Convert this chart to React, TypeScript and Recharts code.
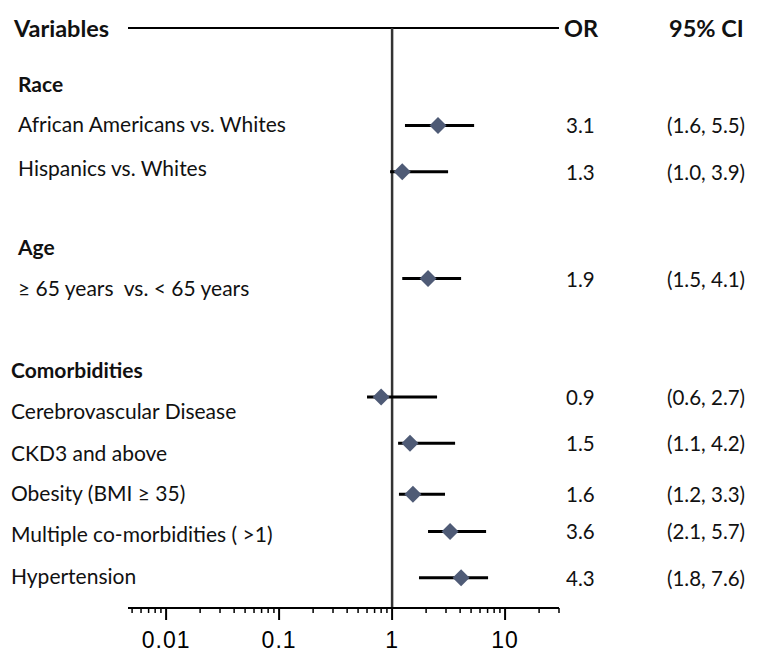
import React from 'react';
import {
  ComposedChart,
  Scatter,
  XAxis,
  YAxis,
  ErrorBar,
  ReferenceLine,
} from 'recharts';

// rows of the forest plot, top to bottom
const rowLabels = [
  'African Americans vs. Whites',
  'Hispanics vs. Whites',
  '≥ 65 years  vs. < 65 years',
  'Cerebrovascular Disease',
  'CKD3 and above',
  'Obesity (BMI ≥ 35)',
  'Multiple co-morbidities ( >1)',
  'Hypertension',
];
const rowGroup = [0, 0, 1, 2, 2, 2, 2, 2];
const groupLabels = ['Race', 'Age', 'Comorbidities'];

// vertical order (row units, 0 = header line)
const groupRows = [2.4, 9.4, 14.7];
const labelRows = [4.1, 6.0, 11.2, 16.5, 18.3, 20.0, 21.8, 23.6];
const markRows = [4.2, 6.2, 10.8, 15.9, 17.9, 20.1, 21.7, 23.7];

const orPlotted = [2.55, 1.23, 2.08, 0.8, 1.44, 1.53, 3.26, 4.08];
const ciLow = [1.3, 0.96, 1.23, 0.6, 1.13, 1.15, 2.08, 1.73];
const ciHigh = [5.32, 3.13, 4.08, 2.5, 3.61, 2.94, 6.79, 7.07];

// printed columns
const orText = ['3.1', '1.3', '1.9', '0.9', '1.5', '1.6', '3.6', '4.3'];
const ciText = [
  '(1.6, 5.5)', '(1.0, 3.9)', '(1.5, 4.1)', '(0.6, 2.7)',
  '(1.1, 4.2)', '(1.2, 3.3)', '(2.1, 5.7)', '(1.8, 7.6)',
];

const majorTicks = [0.01, 0.1, 1, 10];
const minorTicks = [
  0.005, 0.006, 0.007, 0.008, 0.009,
  0.02, 0.03, 0.04, 0.05, 0.06, 0.07, 0.08, 0.09,
  0.2, 0.3, 0.4, 0.5, 0.6, 0.7, 0.8, 0.9,
  2, 3, 4, 5, 6, 7, 8, 9,
  20, 30,
];

const FONT = 'Lato, "Open Sans", sans-serif';
const GROUP_X = [18, 18, 11];
const OR_X = 566;
const CI_X = 667;
const DIAMOND = '#4f5b76';

const marks = orPlotted.map((v, i) => ({
  x: v,
  row: markRows[i],
  err: [v - ciLow[i], ciHigh[i] - v],
  or: orText[i],
  ci: ciText[i],
}));

const labels = rowLabels.map((t, i) => ({
  x: 1,
  row: labelRows[i],
  text: t,
  left: GROUP_X[rowGroup[i]],
  bold: false,
}));
const groups = groupLabels.map((t, i) => ({
  x: 1,
  row: groupRows[i],
  text: t,
  left: GROUP_X[i],
  bold: true,
}));

const Diamond = (props: any) => {
  const { cx, cy } = props;
  const r = 8.5;
  return (
    <polygon
      points={`${cx},${cy - r} ${cx + r},${cy} ${cx},${cy + r} ${cx - r},${cy}`}
      fill={DIAMOND}
    />
  );
};

const Nothing = () => <g />;

const RowText = (props: any) => {
  const { cy, payload } = props;
  return (
    <text
      x={payload.left}
      y={cy}
      dominantBaseline="central"
      fontFamily={FONT}
      fontSize={21}
      fontWeight={payload.bold ? 700 : 400}
      fill="#111"
      style={{ whiteSpace: 'pre' }}
    >
      {payload.text}
    </text>
  );
};

const ValueText = (props: any) => {
  const { cy, payload } = props;
  return (
    <g>
      <text x={OR_X} y={cy} dominantBaseline="central" fontFamily={FONT} fontSize={20.5} fill="#111">
        {payload.or}
      </text>
      <text x={CI_X} y={cy} dominantBaseline="central" fontFamily={FONT} fontSize={20.5} fill="#111">
        {payload.ci}
      </text>
    </g>
  );
};

const HeaderText = (props: any) => {
  const { cy } = props;
  return (
    <g fontFamily={FONT} fontSize={23.5} fontWeight={700} fill="#111">
      <text x={14} y={cy} dominantBaseline="central">Variables</text>
      <text x={564} y={cy} dominantBaseline="central">OR</text>
      <text x={669} y={cy} dominantBaseline="central">95% CI</text>
    </g>
  );
};

const AxisTick = (props: any) => {
  const { x, y, payload } = props;
  const major = majorTicks.includes(payload.value);
  return (
    <g>
      <line
        x1={x}
        x2={x}
        y1={y}
        y2={y + (major ? 12 : 5)}
        stroke="#000"
        strokeWidth={major ? 2 : 1.5}
      />
      {major && (
        <text
          x={x}
          y={y + 40}
          textAnchor="middle"
          fontFamily='"Liberation Sans", Arial, sans-serif'
          fontSize={23}
          letterSpacing={1}
          fill="#000"
        >
          {payload.value}
        </text>
      )}
    </g>
  );
};

const App: React.FC = () => {
  return (
    <div style={{ position: 'absolute', left: 0, top: 0, background: '#fff' }}>
      <ComposedChart
        width={758}
        height={658}
        margin={{ top: 28, right: 199, bottom: 0, left: 128 }}
      >
        <XAxis
          type="number"
          dataKey="x"
          scale="log"
          domain={[0.0046, 30]}
          ticks={[...minorTicks, ...majorTicks].sort((a, b) => a - b)}
          interval={0}
          tick={<AxisTick />}
          tickLine={false}
          tickSize={0}
          tickMargin={0}
          height={50}
          axisLine={{ stroke: '#000', strokeWidth: 2 }}
        />
        <YAxis type="number" dataKey="row" domain={[0, 25]} reversed hide />
        <ReferenceLine y={0} stroke="#000" strokeWidth={2} ifOverflow="visible" />
        <ReferenceLine x={1} stroke="#333" strokeWidth={2.5} />
        <Scatter data={[{ x: 1, row: 0 }]} shape={<HeaderText />} isAnimationActive={false} />
        <Scatter data={groups} shape={<RowText />} isAnimationActive={false} />
        <Scatter data={labels} shape={<RowText />} isAnimationActive={false} />
        <Scatter data={marks} shape={<Nothing />} isAnimationActive={false}>
          <ErrorBar dataKey="err" direction="x" width={0} stroke="#000" strokeWidth={3} />
        </Scatter>
        <Scatter data={marks} shape={<Diamond />} isAnimationActive={false} />
        <Scatter data={marks} shape={<ValueText />} isAnimationActive={false} />
      </ComposedChart>
    </div>
  );
};

export default App;
